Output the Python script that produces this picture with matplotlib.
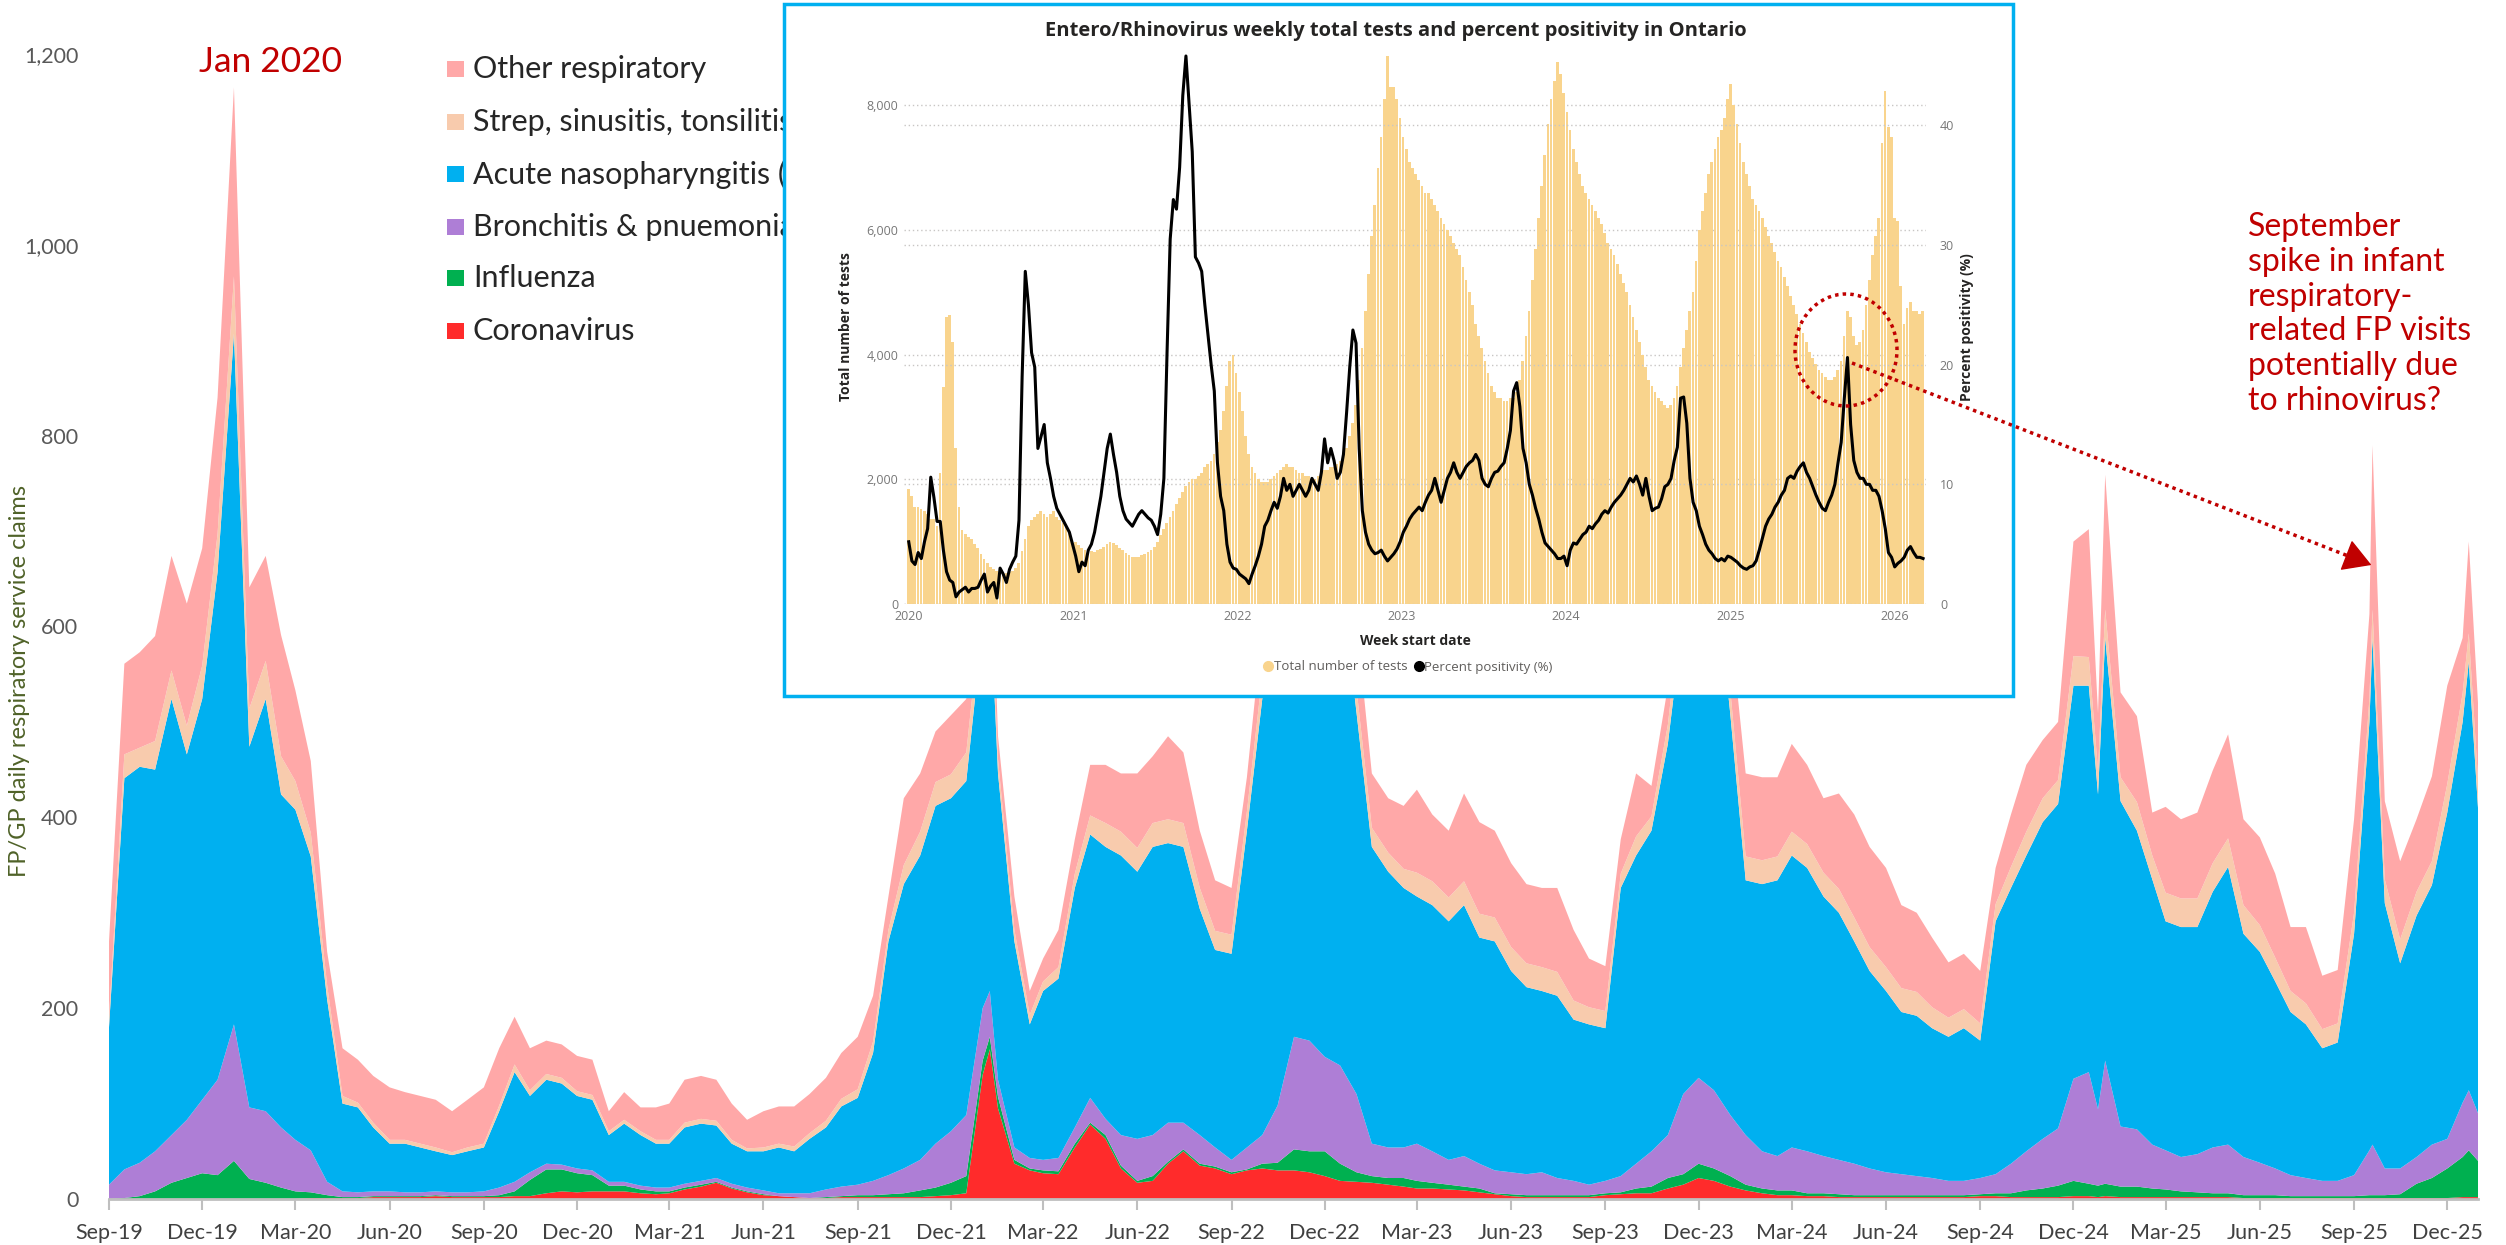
import numpy as np
import pandas as pd
import matplotlib
matplotlib.use("Agg")
import matplotlib.pyplot as plt
import matplotlib.dates as mdates
from matplotlib.patches import Rectangle, Ellipse, FancyArrowPatch
from matplotlib.lines import Line2D
from matplotlib.ticker import FuncFormatter

W, H = 2506, 1245
XL = ["Lato", "DejaVu Sans"]          # spreadsheet text
UI = ["Open Sans", "DejaVu Sans"]     # dashboard text
plt.rcParams["font.family"] = XL

# ── Daily FP/GP respiratory claims, sampled on the 1st and 16th ─────────────
grid = []
for m in pd.date_range("2019-09-01", "2025-12-01", freq="MS"):
    grid += [m, m + pd.Timedelta(days=15)]
extra = pd.to_datetime(["2022-01-08", "2024-12-25",
                        "2025-09-19", "2025-12-22", "2025-12-31"])
claim_dates = pd.DatetimeIndex(sorted(grid + list(extra)))

coronavirus = [
    0, 0, 0, 0, 0, 0, 0, 0,
    0, 0, 0, 0, 0, 1, 1, 1, 1, 2, 2, 2, 2, 3, 2, 2, 2, 2, 3, 3, 6, 8, 7, 8,
    8, 8, 6, 5, 6, 10, 13, 17, 11, 7, 4, 3, 2, 1, 1, 2, 2, 2, 2, 2, 2, 3, 4, 6,
    130, 157, 95, 37, 30, 27, 26, 54, 78, 63, 32, 17, 19, 37, 50, 35, 32, 26, 30, 32, 30, 30, 28, 24, 19,
    18, 17, 15, 13, 11, 11, 10, 9, 7, 5, 3, 2, 2, 2, 2, 2, 4, 5, 6, 6, 11, 15, 22, 19,
    13, 9, 6, 4, 4, 3, 3, 2, 2, 2, 2, 2, 2, 2, 2, 2, 3, 3, 2, 2, 2, 2, 3, 3, 2,
    3, 2, 2, 2, 2, 2, 2, 2, 2, 1, 1, 1, 1, 1, 1, 1, 1, 1, 1, 1, 1, 1, 1, 1, 2, 2, 2,
]
influenza = [
    0, 1, 3, 8, 17, 22, 27, 25,
    40, 21, 17, 12, 8, 6, 3, 1, 1, 1, 1, 1, 1, 1, 1, 1, 1, 2, 5, 17, 25, 23, 20, 17,
    6, 6, 4, 3, 2, 2, 2, 1, 1, 1, 1, 0, 0, 0, 1, 1, 2, 2, 3, 4, 7, 9, 13, 18,
    15, 13, 12, 4, 2, 3, 3, 4, 2, 4, 3, 2, 5, 2, 2, 2, 2, 2, 1, 5, 8, 22, 22, 26, 18,
    10, 7, 7, 9, 8, 6, 5, 4, 4, 1, 2, 2, 2, 2, 2, 2, 2, 2, 5, 7, 11, 11, 15, 13,
    11, 6, 5, 5, 5, 3, 3, 3, 2, 2, 2, 2, 2, 2, 2, 2, 2, 3, 4, 7, 9, 12, 16, 13, 12,
    13, 11, 11, 9, 8, 6, 5, 4, 4, 3, 3, 3, 2, 2, 2, 2, 2, 3, 3, 3, 4, 15, 21, 31, 42, 49, 38,
]
bronchitis = [
    15, 30, 35, 42, 50, 61, 77, 100,
    143, 75, 75, 63, 54, 44, 14, 6, 5, 5, 5, 4, 4, 4, 4, 4, 5, 8, 10, 8, 6, 5, 5, 5,
    4, 4, 4, 4, 4, 4, 4, 4, 4, 4, 4, 3, 4, 5, 8, 10, 11, 15, 20, 26, 32, 46, 54, 64,
    55, 48, 18, 13, 11, 11, 14, 17, 26, 17, 32, 44, 43, 41, 28, 30, 20, 13, 23, 30, 60, 118, 116, 99, 103,
    82, 34, 32, 32, 39, 33, 26, 32, 26, 24, 23, 22, 24, 18, 15, 11, 13, 17, 26, 37, 45, 84, 90, 82,
    64, 52, 39, 36, 45, 44, 39, 36, 33, 28, 24, 22, 20, 18, 15, 15, 17, 20, 31, 41, 52, 60, 107, 117, 80,
    129, 63, 60, 46, 41, 36, 40, 48, 51, 40, 34, 28, 22, 19, 16, 16, 22, 47, 53, 28, 27, 28, 35, 31, 57, 63, 50,
]
nasopharyngitis = [
    165, 410, 415, 400, 457, 383, 420, 532,
    724, 378, 432, 349, 346, 308, 191, 92, 89, 67, 50, 51, 47, 42, 39, 43, 46, 80, 115, 80, 88, 85, 76, 74,
    49, 61, 53, 46, 46, 59, 60, 55, 42, 38, 41, 48, 44, 57, 65, 84, 91, 134, 245, 298, 319, 354, 349, 350,
    400, 420, 321, 216, 140, 177, 188, 251, 276, 285, 293, 280, 302, 293, 289, 237, 207, 216, 332, 457, 500, 520, 550, 560, 520,
    400, 311, 289, 272, 259, 258, 250, 263, 237, 240, 211, 196, 190, 191, 169, 168, 160, 302, 323, 336, 410, 500, 560, 560,
    420, 267, 280, 289, 306, 297, 272, 259, 233, 207, 190, 170, 168, 157, 151, 160, 144, 265, 289, 310, 332, 340, 412, 405, 330,
    443, 341, 313, 278, 240, 241, 238, 268, 291, 234, 221, 196, 171, 161, 139, 145, 253, 449, 531, 278, 215, 253, 272, 342, 399, 449, 320,
]
strep_sinus_tonsil = [
    10, 25, 20, 30, 30, 30, 35, 40,
    60, 40, 40, 40, 30, 25, 15, 8, 5, 5, 4, 4, 4, 4, 3, 4, 4, 6, 8, 6, 6, 6, 5, 5,
    4, 4, 4, 4, 4, 5, 5, 5, 4, 3, 4, 4, 5, 6, 7, 8, 9, 12, 12, 20, 25, 25, 25, 30,
    30, 30, 15, 12, 10, 10, 12, 15, 20, 25, 25, 25, 25, 25, 25, 22, 20, 20, 20, 25, 30, 30, 30, 30, 30,
    25, 20, 20, 20, 25, 25, 25, 25, 25, 25, 25, 25, 25, 25, 20, 18, 18, 15, 20, 15, 20, 30, 30, 30,
    25, 25, 25, 25, 25, 25, 25, 25, 25, 25, 25, 25, 25, 22, 20, 20, 18, 18, 22, 25, 25, 25, 31, 30, 25,
    30, 25, 30, 25, 30, 30, 30, 30, 30, 30, 28, 25, 22, 22, 20, 20, 22, 25, 30, 25, 25, 25, 25, 30, 30, 30, 30,
]
other_respiratory = [
    80, 95, 100, 110, 120, 128, 123, 143,
    198, 127, 110, 127, 95, 75, 35, 50, 45, 49, 55, 50, 50, 50, 43, 50, 59, 60, 50, 44, 35, 35, 37, 37,
    21, 29, 25, 34, 38, 45, 45, 43, 38, 30, 38, 39, 42, 41, 45, 48, 55, 48, 35, 70, 61, 53, 62, 56,
    70, 60, 24, 35, 25, 24, 39, 36, 53, 61, 61, 78, 70, 87, 74, 60, 53, 49, 36, 50, 70, 80, 90, 90, 90,
    70, 57, 57, 66, 87, 70, 70, 92, 96, 91, 88, 83, 83, 88, 74, 51, 47, 36, 66, 32, 40, 80, 90, 90,
    70, 87, 87, 83, 92, 83, 78, 100, 108, 105, 104, 87, 83, 73, 58, 58, 55, 38, 55, 70, 61, 61, 120, 134, 60,
    141, 89, 90, 45, 90, 83, 90, 97, 109, 90, 92, 88, 67, 80, 56, 56, 98, 88, 172, 82, 82, 76, 89, 103, 58, 96, 80,
]

labels = ["Coronavirus", "Influenza", "Bronchitis & pnuemonia",
          "Acute nasopharyngitis (Common cold)", "Strep, sinusitis, tonsilitis",
          "Other respiratory"]
colors = ["#FF2B2B", "#00B050", "#AE7ED6", "#00B0F0", "#F8CBAD", "#FFA8A8"]
series = [coronavirus, influenza, bronchitis, nasopharyngitis,
          strep_sinus_tonsil, other_respiratory]

# ── Entero/Rhinovirus weekly tests and percent positivity ───────────────────
rv_tests = [
    # 2020
    1850, 1730, 1560, 1560, 1530, 1500, 1450, 1360, 1360,
    1250, 2100, 3480, 4600, 4630, 4200, 2500, 1560, 1190,
    1120, 1080, 1050, 960, 900, 800, 720, 650, 600,
    560, 530, 520, 510, 500, 510, 530, 580, 650,
    850, 1050, 1250, 1350, 1400, 1450, 1500, 1450,
    1400, 1450, 1500, 1400, 1350, 1300, 1250, 1150, 950,
    # 2021
    1000, 950, 900, 870, 850, 850, 840, 860, 880,
    920, 960, 1000, 980, 940, 900, 860, 820,
    780, 760, 750, 760, 780, 800, 830, 870, 920,
    1000, 1100, 1200, 1300, 1400, 1500, 1600, 1700, 1800,
    1900, 1950, 2000, 2000, 2050, 2100, 2200, 2250, 2300,
    2400, 2600, 2800, 3100, 3500, 3900, 4000, 3700,
    # 2022
    3400, 3100, 2700, 2400, 2200, 2100, 2000, 1950, 1950,
    1950, 2000, 2050, 2100, 2150, 2200, 2250, 2200,
    2200, 2150, 2100, 2100, 2050, 2050, 2000, 2000, 2050,
    2100, 2150, 2150, 2200, 2200, 2250, 2300, 2400, 2500,
    2700, 2900, 3200, 3600, 4100, 4700, 5300, 5900, 6400,
    7000, 7500, 8100, 8800, 8300, 8300, 8100, 7800,
    # 2023
    7500, 7300, 7100, 7000, 6900, 6800, 6700, 6600, 6600,
    6500, 6400, 6300, 6200, 6100, 6000, 5900, 5800, 5700,
    5600, 5400, 5200, 5000, 4800, 4500, 4300, 4100,
    3900, 3700, 3500, 3400, 3300, 3300, 3250, 3250, 3300,
    3300, 3400, 3600, 3900, 4300, 4700, 5200, 5700, 6200,
    6700, 7200, 7700, 8100, 8400, 8700, 8500, 8200, 7900,
    # 2024
    7600, 7300, 7100, 6900, 6700, 6600, 6500, 6400,
    6300, 6200, 6100, 5950, 5800, 5700, 5600, 5450, 5300,
    5150, 5000, 4800, 4600, 4400, 4200, 4000, 3800, 3600,
    3500, 3400, 3300, 3250, 3200, 3150, 3200, 3300,
    3500, 3800, 4100, 4400, 4700, 5000, 5500, 6000, 6300,
    6600, 6900, 7100, 7300, 7500, 7600, 7800, 8100, 8350,
    # 2025
    8000, 7700, 7400, 7100, 6900, 6700, 6500, 6400,
    6300, 6200, 6050, 5900, 5800, 5650, 5500, 5400, 5250,
    5100, 4950, 4800, 4650, 4500, 4350, 4200, 4050, 3950,
    3850, 3750, 3700, 3650, 3600, 3600, 3650, 3750, 3900,
    4300, 4700, 4600, 4300, 4150, 4200, 4400, 4800,
    5200, 5600, 5900, 6200, 7400, 8240, 7650, 7500, 6200,
    # 2026
    6150, 5100, 4500, 4750, 4850, 4700, 4700, 4650, 4700,
]
rv_positivity = [
    # 2020
    5.2, 3.6, 3.3, 4.3, 3.8, 5.2, 6.3, 10.6, 8.9,
    6.9, 6.9, 4.5, 2.7, 2.0, 1.8, 0.6, 1.0, 1.2,
    1.4, 1.0, 1.3, 1.3, 1.4, 2.0, 2.5, 1.0, 1.5,
    1.8, 0.5, 3.0, 2.5, 1.8, 2.9, 3.5, 4.0, 7.0,
    19.0, 27.8, 25.0, 21.0, 19.8, 13.0, 14.0, 15.0,
    11.8, 10.5, 9.0, 8.0, 7.5, 7.0, 6.5, 6.0, 5.0,
    # 2021
    4.0, 2.7, 3.5, 3.2, 4.5, 5.0, 6.0, 7.5, 9.0,
    11.0, 13.0, 14.2, 12.5, 11.0, 9.0, 7.8, 7.1,
    6.8, 6.5, 7.0, 7.5, 7.8, 7.5, 7.2, 7.0, 6.5,
    5.8, 7.5, 10.5, 21.0, 30.5, 33.8, 33.0, 36.5, 42.5,
    45.8, 41.8, 37.8, 29.0, 28.5, 27.8, 25.0, 22.5, 20.0,
    17.8, 11.8, 9.0, 7.8, 5.0, 3.5, 3.0, 2.9,
    # 2022
    2.5, 2.3, 2.1, 1.7, 2.5, 3.2, 4.0, 5.0, 6.5,
    7.0, 7.8, 8.5, 8.0, 9.0, 10.5, 9.5, 10.0,
    9.0, 9.5, 10.0, 9.5, 9.0, 9.5, 10.5, 10.0, 9.5,
    11.0, 13.8, 11.8, 13.0, 12.0, 10.5, 11.0, 12.5, 16.0,
    19.8, 22.9, 21.8, 13.0, 7.8, 6.0, 5.0, 4.5, 4.2,
    4.3, 4.5, 4.0, 3.6, 3.9, 4.2, 4.6, 5.2,
    # 2023
    6.0, 6.5, 7.1, 7.5, 7.8, 8.1, 7.8, 8.5, 9.1,
    9.5, 10.5, 9.5, 8.5, 9.5, 10.5, 11.0, 11.8, 11.0,
    10.5, 11.0, 11.5, 11.8, 12.0, 12.5, 12.0, 10.5,
    10.0, 9.8, 10.5, 11.0, 11.1, 11.5, 11.8, 13.0, 14.5,
    17.8, 18.5, 16.5, 13.0, 11.8, 10.0, 9.1, 8.0, 7.1,
    6.0, 5.1, 4.8, 4.5, 4.2, 3.8, 3.8, 4.0, 3.2,
    # 2024
    4.5, 5.1, 5.0, 5.4, 5.8, 6.0, 6.5, 6.3,
    6.7, 7.0, 7.5, 7.8, 7.6, 8.1, 8.5, 8.8, 9.1,
    9.5, 10.0, 10.5, 10.2, 10.7, 10.0, 9.1, 10.5, 9.0,
    7.8, 8.0, 8.1, 8.8, 9.8, 10.0, 10.5, 12.0,
    13.1, 17.2, 17.3, 15.1, 10.5, 8.5, 7.8, 6.5, 5.8,
    5.0, 4.5, 4.2, 3.8, 3.6, 3.8, 3.6, 4.0, 3.9,
    # 2025
    3.7, 3.5, 3.2, 3.0, 2.9, 3.1, 3.2, 3.6,
    4.5, 5.5, 6.5, 7.1, 7.5, 8.1, 8.5, 9.1, 9.5,
    10.5, 10.7, 10.5, 11.1, 11.5, 11.8, 11.0, 10.5, 9.8,
    9.1, 8.5, 8.0, 7.8, 8.5, 9.1, 10.0, 11.8, 13.5,
    17.2, 20.6, 15.0, 12.0, 11.0, 10.5, 10.5, 10.0,
    10.0, 9.5, 9.5, 9.0, 7.8, 6.3, 4.3, 3.9, 3.1,
    # 2026
    3.4, 3.6, 3.9, 4.5, 4.8, 4.3, 3.9, 3.9, 3.8,
]
rv_weeks = pd.date_range("2019-12-29", periods=len(rv_tests), freq="7D")

fig = plt.figure(figsize=(W / 100, H / 100), dpi=100)

def fx(px):
    return px / W

def fy(py):
    return 1 - py / H

# ── Main stacked area ───────────────────────────────────────────────────────
ax = fig.add_axes([fx(109), fy(1199), fx(2478 - 109), (1199 - 54) / H])
ax.stackplot(claim_dates, *series, colors=colors, linewidth=0)
ax.set_xlim(pd.Timestamp("2019-09-01"), pd.Timestamp("2025-12-31"))
ax.set_ylim(0, 1200)
ax.set_yticks(range(0, 1201, 200))
ax.yaxis.set_major_formatter(FuncFormatter(lambda v, p: f"{int(v):,}"))
ax.xaxis.set_major_locator(mdates.MonthLocator(bymonth=[3, 6, 9, 12]))
ax.xaxis.set_major_formatter(mdates.DateFormatter("%b-%y"))
for s in ["top", "right", "left"]:
    ax.spines[s].set_visible(False)
ax.spines["bottom"].set_color("#BFBFBF")
ax.spines["bottom"].set_linewidth(2)
ax.tick_params(axis="y", length=0, pad=22, labelsize=15.5, labelcolor="#595959")
ax.tick_params(axis="x", length=8, width=1.5, color="#BFBFBF", pad=9,
               labelsize=15.5, labelcolor="#404040")
ax.set_ylabel("FP/GP daily respiratory service claims", fontsize=17,
              color="#4F6228")
ax.yaxis.set_label_coords(-0.0333, 0.452)

fig.text(fx(199), fy(72), "Jan 2020", fontsize=25.5, color="#C00000",
         va="baseline", ha="left")

# legend drawn at figure level so the inset panel covers its right side
leg_rows = [69, 122, 174, 227, 278, 331]
for row, lab, col in zip(leg_rows, labels[::-1], colors[::-1]):
    fig.add_artist(Rectangle((fx(447), fy(row + 8)), fx(17), 16 / H,
                             transform=fig.transFigure, facecolor=col,
                             edgecolor="none", zorder=1.5))
    fig.text(fx(473), fy(row), lab, fontsize=22, color="#262626",
             va="center", ha="left", zorder=1.5)

# ── Inset panel ─────────────────────────────────────────────────────────────
fig.add_artist(Rectangle((fx(784), fy(696)), fx(2013 - 784), (696 - 4) / H,
                         transform=fig.transFigure, facecolor="white",
                         edgecolor="#00B0F0", linewidth=2.5, zorder=2))

iax = fig.add_axes([fx(904), fy(604), fx(1926 - 904), (604 - 50) / H])
iax.set_zorder(3)
iax.patch.set_alpha(0)
iax.bar(rv_weeks, rv_tests, width=6, align="edge", color="#F9D48D",
        linewidth=0)
iax.set_xlim(pd.Timestamp("2019-12-22"), pd.Timestamp("2026-03-11"))
iax.set_ylim(0, 8890)
iax.set_yticks(range(0, 8001, 2000))
iax.yaxis.set_major_formatter(FuncFormatter(lambda v, p: f"{int(v):,}"))
iax.grid(axis="y", linestyle=(0, (1, 2)), color="#C8C6C4", linewidth=1)
iax.set_axisbelow(True)
iax.xaxis.set_major_locator(mdates.YearLocator())
iax.xaxis.set_major_formatter(mdates.DateFormatter("%Y"))
for s in iax.spines.values():
    s.set_visible(False)
iax.tick_params(length=0, labelsize=9, labelcolor="#777777", pad=4)
for t in iax.get_xticklabels() + iax.get_yticklabels():
    t.set_family(UI)
iax.set_xlabel("Week start date", fontsize=10, fontweight="bold",
               color="#252423", family=UI, labelpad=8)
iax.set_ylabel("Total number of tests", fontsize=10, fontweight="bold",
               color="#252423", family=UI, labelpad=10)

iax2 = iax.twinx()
iax2.set_zorder(4)
iax2.plot(rv_weeks + pd.Timedelta(days=3.5), rv_positivity, color="black",
          linewidth=2.2, solid_joinstyle="round")
iax2.set_ylim(0, 46.3)
iax2.set_yticks(range(0, 41, 10))
iax2.grid(axis="y", linestyle=(0, (1, 2)), color="#C8C6C4", linewidth=1)
for s in iax2.spines.values():
    s.set_visible(False)
iax2.tick_params(length=0, labelsize=9, labelcolor="#777777", pad=10)
for t in iax2.get_yticklabels():
    t.set_family(UI)
iax2.set_ylabel("Percent positivity (%)", fontsize=10, fontweight="bold",
                color="#252423", family=UI, labelpad=4)

fig.text(fx(1396), fy(31),
         "Entero/Rhinovirus weekly total tests and percent positivity in Ontario",
         fontsize=14.5, fontweight="bold", color="#252423", family=UI,
         ha="center", va="center", zorder=5)

handles = [Line2D([], [], marker="o", linestyle="none", markersize=7,
                  color="#F9D48D"),
           Line2D([], [], marker="o", linestyle="none", markersize=7,
                  color="black")]
leg = fig.legend(handles, ["Total number of tests", "Percent positivity (%)"],
                 loc="center", bbox_to_anchor=(fx(1408), fy(667)), ncol=2,
                 frameon=False, handletextpad=0.05, columnspacing=0.4,
                 handlelength=0.8, prop={"family": UI, "size": 9.5})
for t in leg.get_texts():
    t.set_color("#605E5C")
leg.set_zorder(5)

# ── Annotation: circled September peak and arrow to the claims spike ────────
fig.add_artist(Ellipse((fx(1846), fy(350)), fx(102), 112 / H,
                       transform=fig.transFigure, fill=False,
                       edgecolor="#C00000", linewidth=2.5,
                       linestyle=(0, (1, 1.2)), zorder=6))
fig.add_artist(Line2D([fx(1852), fx(2356)], [fy(363), fy(559)],
                      transform=fig.transFigure, color="#C00000",
                      linewidth=2.5, linestyle=(0, (1, 1.2)), zorder=6))
fig.add_artist(FancyArrowPatch((fx(2352), fy(557.5)), (fx(2374), fy(566)),
                               transform=fig.transFigure,
                               arrowstyle="-|>,head_length=12,head_width=7",
                               color="#C00000", linewidth=1,
                               mutation_scale=1.5, zorder=6))

fig.text(fx(2248), fy(212),
         "September\nspike in infant\nrespiratory-\nrelated FP visits\n"
         "potentially due\nto rhinovirus?",
         fontsize=23, color="#C00000", ha="left", va="top", linespacing=1.2)

fig.savefig("out.png", dpi=100)
